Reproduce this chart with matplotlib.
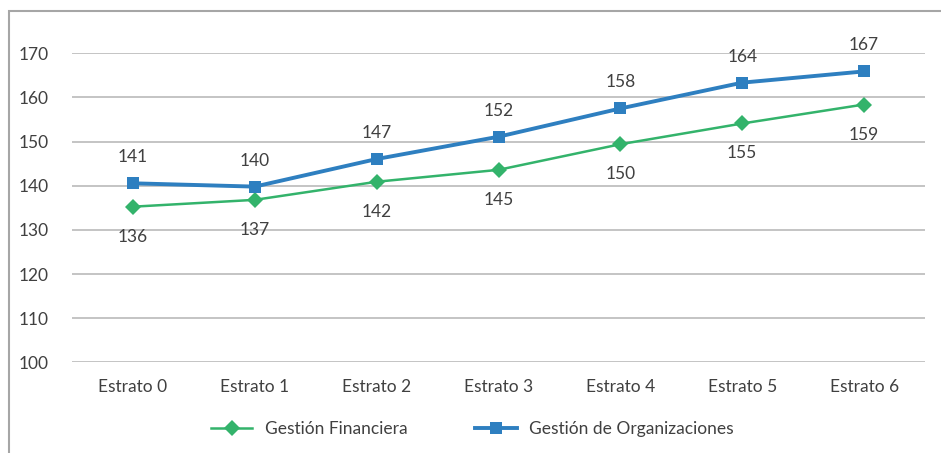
import matplotlib
matplotlib.use("Agg")
import matplotlib.pyplot as plt
from matplotlib.patches import Rectangle

categories = ["Estrato 0", "Estrato 1", "Estrato 2", "Estrato 3", "Estrato 4", "Estrato 5", "Estrato 6"]
financiera = [135.25, 136.8, 140.9, 143.6, 149.4, 154.1, 158.4]
organizaciones = [140.55, 139.8, 146.05, 151.1, 157.5, 163.35, 165.9]
financiera_labels = ["136", "137", "142", "145", "150", "155", "159"]
organizaciones_labels = ["141", "140", "147", "152", "158", "164", "167"]
yticks = [100, 110, 120, 130, 140, 150, 160, 170]

plt.rcParams['font.family'] = ['Lato', 'DejaVu Sans']
TXT = '#404040'
GREEN = '#33B36B'
BLUE = '#2E7FC0'

fig = plt.figure(figsize=(9.41, 4.53), dpi=100)
ax = fig.add_axes([72/941, 1-362.3/453, (925-72)/941, (362.3-53.3)/453])

x = list(range(len(categories)))
lg, = ax.plot(x, financiera, color=GREEN, lw=1.8, marker='D', ms=8.5,
              markeredgewidth=0, label='Gestión Financiera', zorder=3)
lb, = ax.plot(x, organizaciones, color=BLUE, lw=2.8, marker='s', ms=8.5,
              markeredgewidth=0, label='Gestión de Organizaciones', zorder=4)

for xi, v, t in zip(x, financiera, financiera_labels):
    ax.annotate(t, (xi, v), xytext=(0, -30), textcoords='offset pixels',
                ha='center', va='center', fontsize=12.5, color=TXT)
for xi, v, t in zip(x, organizaciones, organizaciones_labels):
    ax.annotate(t, (xi, v), xytext=(0, 26), textcoords='offset pixels',
                ha='center', va='center', fontsize=12.5, color=TXT)

ax.set_xlim(-0.5, len(categories) - 0.5)
ax.set_ylim(100, 170)
ax.set_yticks(yticks)
ax.set_xticks(x)
ax.set_xticklabels(categories)
ax.grid(axis='y', color='#BFBFBF', lw=1.3)
ax.set_axisbelow(True)
for s in ax.spines.values():
    s.set_visible(False)
ax.tick_params(length=0, labelsize=12.5, labelcolor=TXT)
ax.tick_params(axis='x', pad=12)
ax.tick_params(axis='y', pad=17)
for lab in ax.get_yticklabels():
    lab.set_horizontalalignment('right')

leg = fig.legend(handles=[lg, lb], loc='center', bbox_to_anchor=(472/941, 1-429/453),
                 ncol=2, frameon=False, fontsize=12.5, handlelength=2.4,
                 columnspacing=3.9, handletextpad=0.7, labelcolor=TXT)

fig.patches.append(Rectangle((9/941, -0.05), 1.1, 1-11/453+0.05, transform=fig.transFigure,
                             fill=False, edgecolor='#A6A6A6', lw=1.5))

fig.savefig('out.png', dpi=100)
